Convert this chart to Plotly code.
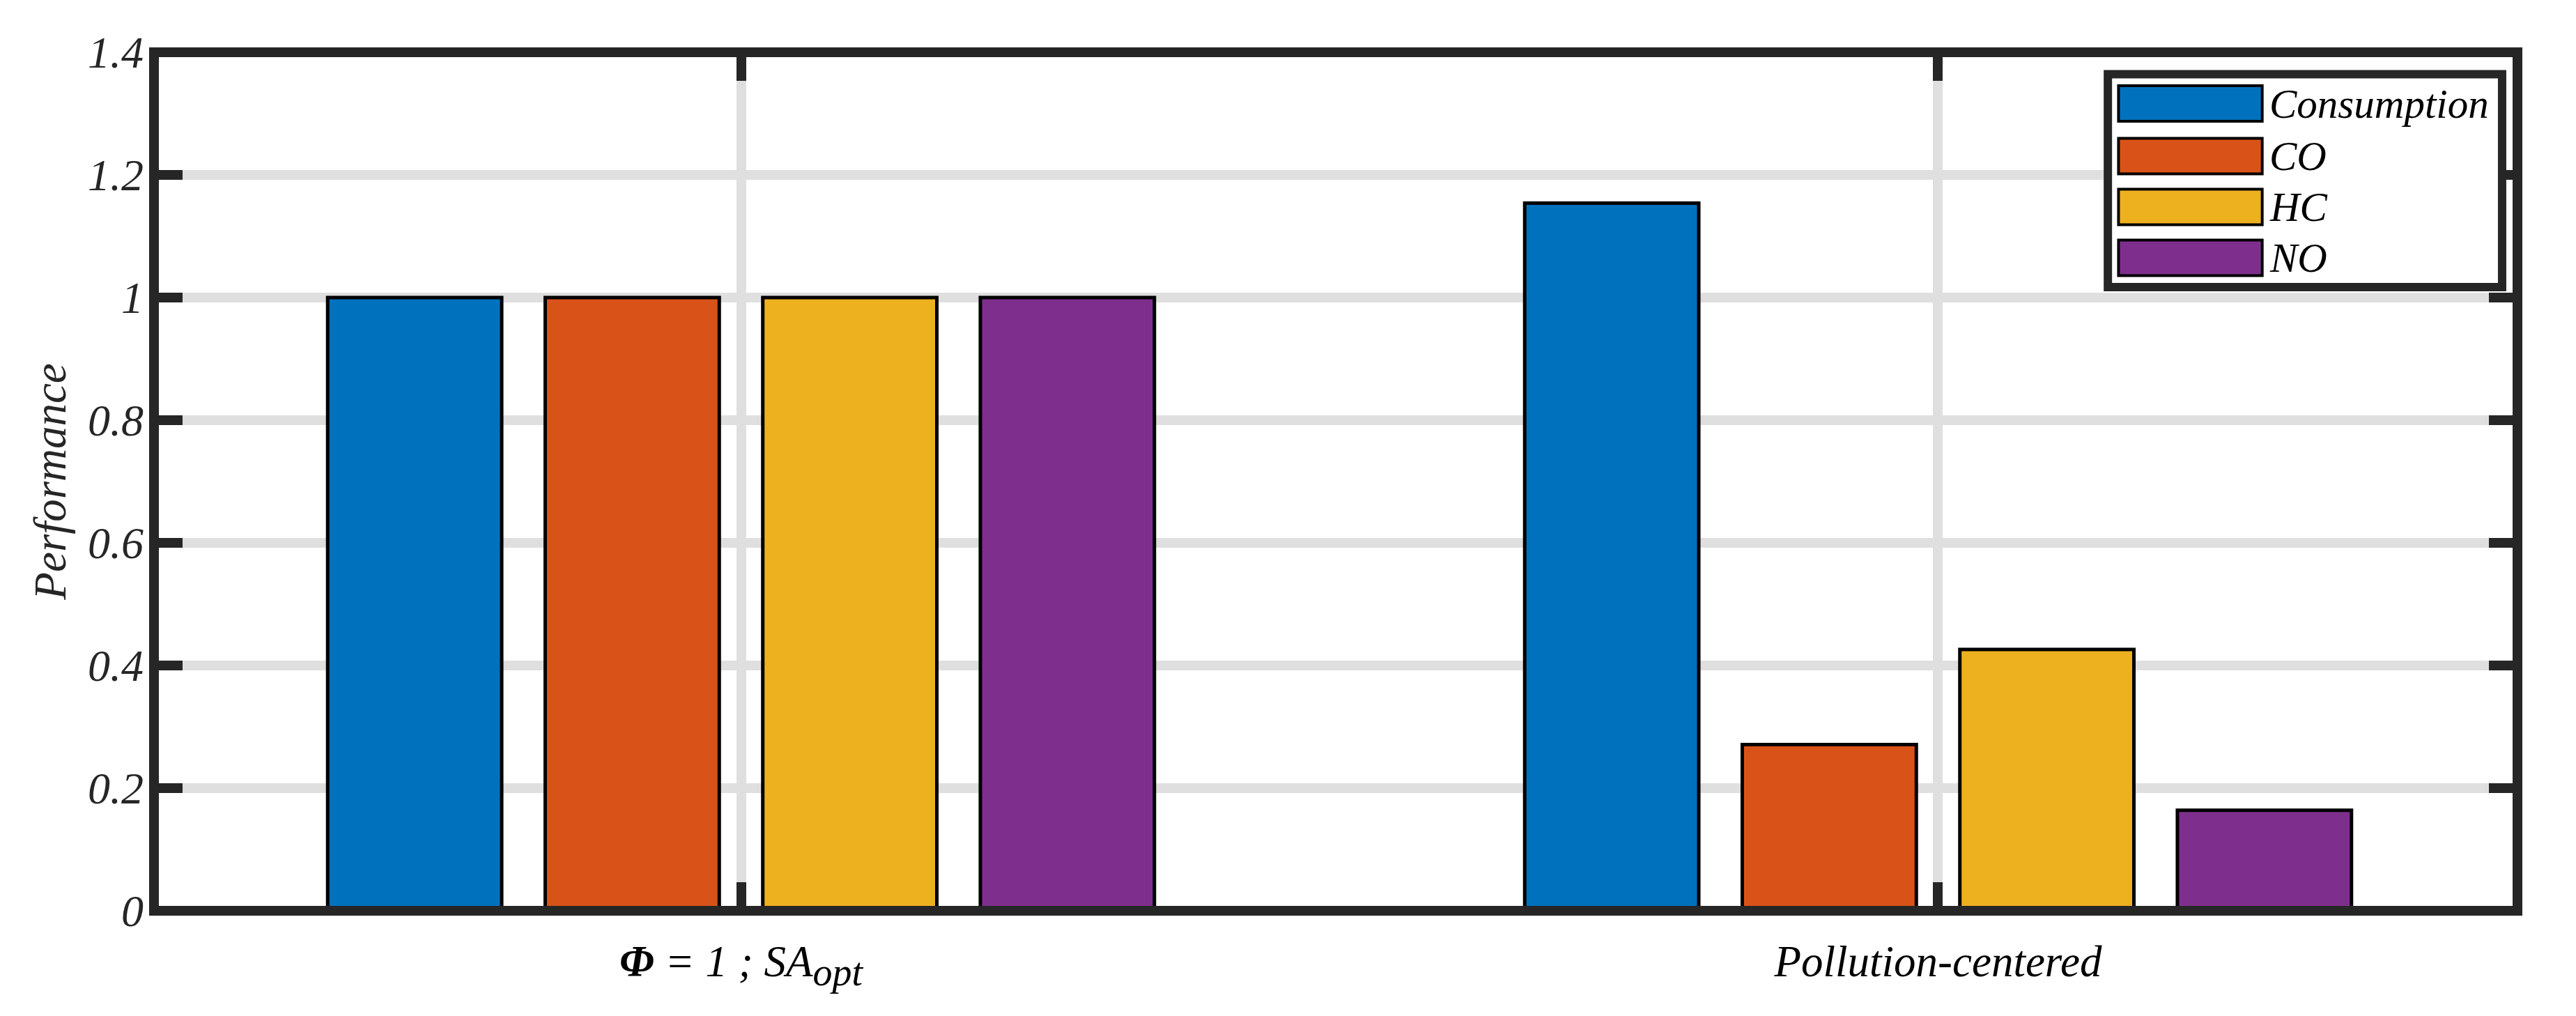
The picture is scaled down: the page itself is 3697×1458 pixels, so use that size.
import plotly.graph_objects as go

# data
categories = ["baseline", "pollution"]
tick_labels = ["<b>Φ</b> = 1 ; SA<sub><span style='font-size:56px'>opt</span></sub>",
               "Pollution-centered"]
series_names = ["Consumption", "CO", "HC", "NO"]
consumption = [1.0, 1.154]
co = [1.0, 0.271]
hc = [1.0, 0.426]
no = [1.0, 0.164]
y_ticks = [0, 0.2, 0.4, 0.6, 0.8, 1, 1.2, 1.4]

colors = ["#0072BD", "#D95319", "#EDB120", "#7E2F8E"]
dark = "#262626"
font_family = "Liberation Serif"

fig = go.Figure()
for name, vals, col in zip(series_names, [consumption, co, hc, no], colors):
    fig.add_trace(go.Bar(
        x=categories, y=vals, name=name,
        marker=dict(color=col, line=dict(color="black", width=5)),
        showlegend=False,
    ))

# axis lines are drawn as a frame shape (centred on the plot edge, like MATLAB)
axis_common = dict(
    showline=False, mirror="ticks",
    ticks="inside", ticklen=41, tickwidth=14, tickcolor=dark,
    showgrid=True, gridcolor="#dfdfdf", gridwidth=14,
    zeroline=False,
)

fig.update_xaxes(
    **axis_common,
    type="category",
    tickvals=categories, ticktext=tick_labels,
    range=[-0.4904, 1.484],
    ticklabelstandoff=30,
    tickfont=dict(family=font_family, size=63, color="black", style="italic"),
)
fig.update_yaxes(
    **axis_common,
    range=[0, 1.4], tickvals=y_ticks,
    ticklabelstandoff=14,
    tickfont=dict(family=font_family, size=64, color=dark, style="italic"),
    title=dict(text="Performance", standoff=10,
               font=dict(family=font_family, size=65, color=dark, style="italic")),
)

shapes = [dict(type="rect", xref="paper", yref="paper", x0=0, x1=1, y0=0, y1=1,
               line=dict(color=dark, width=14), layer="above")]

# legend drawn by hand so the swatches match the original's wide boxes
shapes.append(dict(type="rect", xref="paper", yref="paper",
                   x0=0.8267, x1=0.9935, y0=0.7265, y1=0.9745,
                   fillcolor="white", line=dict(color=dark, width=12), layer="above"))
annotations = []
row_y = [0.9403, 0.8791, 0.8198, 0.7606]
for name, col, ry in zip(series_names, colors, row_y):
    shapes.append(dict(type="rect", xref="paper", yref="paper",
                       x0=0.8312, x1=0.8920, y0=ry - 0.0207, y1=ry + 0.0207,
                       fillcolor=col, line=dict(color="black", width=4), layer="above"))
    annotations.append(dict(xref="paper", yref="paper", x=0.8945, y=ry,
                            xanchor="left", yanchor="middle", showarrow=False,
                            text=name,
                            font=dict(family=font_family, size=59, color="black", style="italic")))

# page body adds an 8px offset, so the margins are shifted to compensate
fig.update_layout(
    width=3697, height=1458,
    barmode="group", bargap=0.273, bargroupgap=0.2,
    plot_bgcolor="white", paper_bgcolor="white",
    margin=dict(l=213, r=92, t=67, b=159),
    shapes=shapes, annotations=annotations,
    showlegend=False,
)

fig.write_html("out.html")
